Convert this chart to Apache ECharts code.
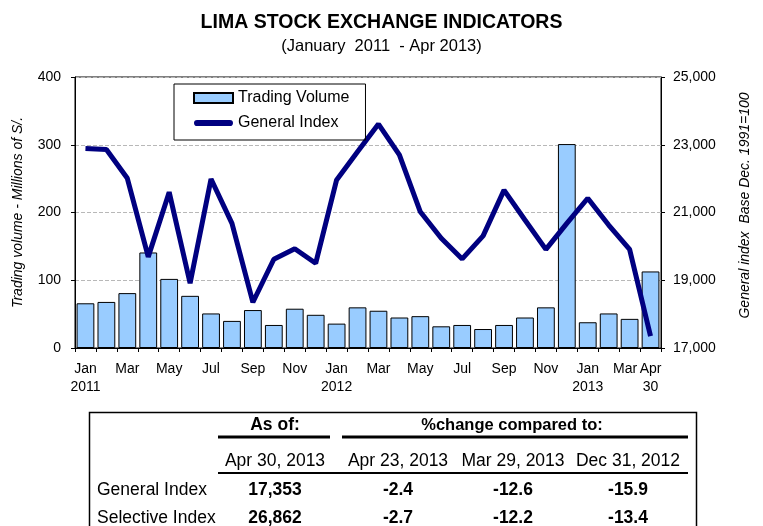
<!DOCTYPE html>
<html>
<head>
<meta charset="utf-8">
<title>Lima Stock Exchange Indicators</title>
<script src="https://cdn.jsdelivr.net/npm/echarts@6/dist/echarts.min.js"></script>
<style>
    html, body { margin: 0; padding: 0; background: #fff; }
    #chart { width: 763px; height: 526px; }
</style>
</head>
<body>
<div id="chart"></div>
<script type="text/javascript">
// months Jan 2011 - Apr 2013
var months = ['Jan 2011', 'Feb 2011', 'Mar 2011', 'Apr 2011', 'May 2011', 'Jun 2011', 'Jul 2011', 'Aug 2011', 'Sep 2011', 'Oct 2011', 'Nov 2011', 'Dec 2011',
    'Jan 2012', 'Feb 2012', 'Mar 2012', 'Apr 2012', 'May 2012', 'Jun 2012', 'Jul 2012', 'Aug 2012', 'Sep 2012', 'Oct 2012', 'Nov 2012', 'Dec 2012',
    'Jan 2013', 'Feb 2013', 'Mar 2013', 'Apr 2013'];
var monthLabels = ['Jan\n2011', '', 'Mar', '', 'May', '', 'Jul', '', 'Sep', '', 'Nov', '',
    'Jan\n2012', '', 'Mar', '', 'May', '', 'Jul', '', 'Sep', '', 'Nov', '',
    'Jan\n2013', '', 'Mar', 'Apr\n30'];
// trading volume, millions of S/.
var tradingVolume = [66, 68, 81, 141, 102, 77, 51, 40, 56, 34, 58, 49,
    36, 60, 55, 45, 47, 32, 34, 28, 34, 45, 60, 301,
    38, 51, 43, 113];
// general index, base Dec.1991=100
var generalIndex = [22890, 22860, 22010, 19690, 21600, 18910, 21990, 20680, 18350, 19620, 19930, 19500,
    21960, 22790, 23610, 22700, 21020, 20240, 19630, 20310, 21660, 20780, 19910, 20680,
    21420, 20630, 19910, 17353];

// summary table
var tableDates = ['Apr 30, 2013', 'Apr 23, 2013', 'Mar 29, 2013', 'Dec 31, 2012'];
var tableRowNames = ['General Index', 'Selective Index'];
var tableLevels = ['17,353', '26,862'];
var tableChanges = [['-2.4', '-12.6', '-15.9'], ['-2.7', '-12.2', '-13.4']];

var FONT = 'Liberation Sans, Arial, sans-serif';
var TFS = '17.5px ';

// table graphics
var colX = [275, 398, 513, 628];
var rowY = [490, 518];
var graphics = [
    {type: 'rect', shape: {x: 89.5, y: 412.5, width: 607, height: 200}, style: {fill: 'none', stroke: '#000', lineWidth: 1.5}},
    {type: 'line', shape: {x1: 218, y1: 437, x2: 330, y2: 437}, style: {stroke: '#000', lineWidth: 3}},
    {type: 'line', shape: {x1: 342, y1: 437, x2: 688, y2: 437}, style: {stroke: '#000', lineWidth: 3}},
    {type: 'line', shape: {x1: 218, y1: 473, x2: 688, y2: 473}, style: {stroke: '#000', lineWidth: 2}},
    {type: 'text', x: 275, y: 425, style: {text: 'As of:', font: 'bold ' + TFS + FONT, fill: '#000', textAlign: 'center', textVerticalAlign: 'middle'}},
    {type: 'text', x: 512, y: 425, style: {text: '%change compared to:', font: 'bold 16.5px ' + FONT, fill: '#000', textAlign: 'center', textVerticalAlign: 'middle'}}
];
tableDates.forEach(function (d, i) {
    graphics.push({type: 'text', x: colX[i], y: 461, style: {text: d, font: TFS + FONT, fill: '#000', textAlign: 'center', textVerticalAlign: 'middle'}});
});
tableRowNames.forEach(function (n, r) {
    graphics.push({type: 'text', x: 97, y: rowY[r], style: {text: n, font: TFS + FONT, fill: '#000', textAlign: 'left', textVerticalAlign: 'middle'}});
    graphics.push({type: 'text', x: colX[0], y: rowY[r], style: {text: tableLevels[r], font: 'bold ' + TFS + FONT, fill: '#000', textAlign: 'center', textVerticalAlign: 'middle'}});
    tableChanges[r].forEach(function (v, c) {
        graphics.push({type: 'text', x: colX[c + 1], y: rowY[r], style: {text: v, font: 'bold ' + TFS + FONT, fill: '#000', textAlign: 'center', textVerticalAlign: 'middle'}});
    });
});

var MYCHART = echarts.init(document.getElementById('chart'));
var option = {
    animation: false,
    textStyle: {fontFamily: FONT, color: '#000'},
    title: {
        text: 'LIMA STOCK EXCHANGE INDICATORS',
        subtext: '(January  2011  - Apr 2013)',
        left: 'center',
        top: 8,
        itemGap: 5,
        textStyle: {fontFamily: FONT, fontSize: 19.5, fontWeight: 'bold', color: '#000'},
        subtextStyle: {fontFamily: FONT, fontSize: 16.5, color: '#000'}
    },
    legend: {
        orient: 'vertical',
        left: 174,
        top: 84,
        padding: [6, 16, 9, 19],
        itemGap: 9,
        itemWidth: 39,
        itemHeight: 10,
        borderColor: '#000',
        borderWidth: 1,
        textStyle: {fontFamily: FONT, fontSize: 16, color: '#000'},
        data: [
            {name: 'Trading Volume', icon: 'rect'},
            {name: 'General Index', icon: 'path://M3,0 L35,0 A3,3 0 0 1 35,6 L3,6 A3,3 0 0 1 3,0 Z'}
        ]
    },
    grid: {
        left: 75, right: 102, top: 77, bottom: 178,
        show: true, borderColor: '#000', borderWidth: 1
    },
    xAxis: [{
        type: 'category',
        data: months,
        axisLine: {lineStyle: {color: '#000', width: 1}},
        axisTick: {show: true, interval: 0, length: 4, lineStyle: {color: '#000'}},
        axisLabel: {
            interval: 0,
            margin: 12,
            fontSize: 14,
            lineHeight: 18,
            color: '#000',
            formatter: function (value, index) {
                // the last two labels sit close together, nudge Mar to the left
                if (index === 26) {
                    return '{m|' + monthLabels[index] + '}';
                }
                return monthLabels[index];
            },
            rich: {
                m: {fontSize: 14, color: '#000', padding: [0, 9, 0, 0]}
            }
        }
    }],
    yAxis: [
        {
            type: 'value',
            min: 0, max: 400, interval: 100,
            name: 'Trading volume - Millions of S/.',
            nameLocation: 'middle',
            nameRotate: 90,
            nameGap: 50,
            nameTextStyle: {fontFamily: FONT, fontSize: 14, fontStyle: 'italic', color: '#000'},
            axisLine: {show: true, lineStyle: {color: '#000'}},
            axisTick: {show: true, length: 4, lineStyle: {color: '#000'}},
            axisLabel: {fontSize: 14, color: '#000', margin: 14},
            splitLine: {show: true, lineStyle: {type: 'dashed', color: '#b8b8b8'}}
        },
        {
            type: 'value',
            position: 'right',
            min: 17000, max: 25000, interval: 2000,
            name: 'General index  Base Dec. 1991=100',
            nameLocation: 'middle',
            nameRotate: 90,
            nameGap: 77,
            nameTextStyle: {fontFamily: FONT, fontSize: 14, fontStyle: 'italic', color: '#000', padding: [0, 0, 0, 14]},
            axisLine: {show: true, lineStyle: {color: '#000'}},
            axisTick: {show: true, length: 4, lineStyle: {color: '#000'}},
            axisLabel: {
                fontSize: 14, color: '#000', margin: 12,
                formatter: function (v) { return v.toLocaleString('en-US'); }
            },
            splitLine: {show: false}
        }
    ],
    series: [
        {
            name: 'Trading Volume',
            type: 'bar',
            yAxisIndex: 0,
            barCategoryGap: '15%',
            itemStyle: {color: '#99ccff', borderColor: '#000', borderWidth: 1},
            data: tradingVolume,
            z: 2
        },
        {
            name: 'General Index',
            type: 'line',
            yAxisIndex: 1,
            symbol: 'none',
            lineStyle: {color: '#000080', width: 5},
            itemStyle: {color: '#000080'},
            data: generalIndex,
            z: 3
        }
    ],
    graphic: graphics
};
MYCHART.setOption(option);
</script>
</body>
</html>
